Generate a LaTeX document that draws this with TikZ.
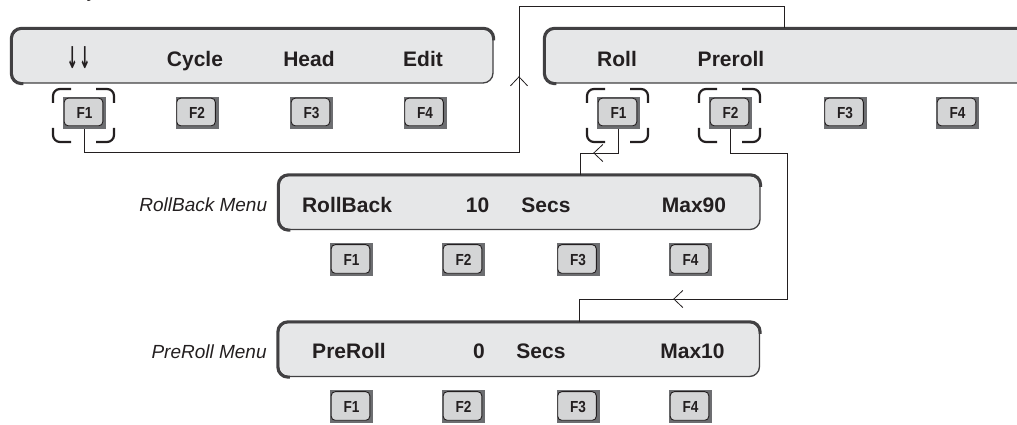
\documentclass[tikz,border=0pt]{standalone}
\usepackage{fontspec}
\setmainfont{Liberation Sans}
\newfontfamily\keyfont[FakeStretch=0.85]{Liberation Sans Bold}
\newfontfamily\arrowfont{DejaVu Sans}
\usetikzlibrary{calc,decorations.markings}
\definecolor{panelfill}{HTML}{E6E7E8}
\definecolor{panelline}{HTML}{414042}
\definecolor{keydark}{HTML}{6D6E71}
\definecolor{keylight}{HTML}{D4D5D6}
\definecolor{ink}{HTML}{231F20}
\newcommand{\bigdown}{\resizebox*{11.5pt}{22pt}{\arrowfont\bfseries ↓}}
\newcommand{\keylabel}[1]{\keyfont\fontsize{16}{18}\selectfont #1}
\tikzset{
 panel/.style={draw=panelline, fill=panelfill, line width=1.3pt, rounded corners=10pt,
   minimum width=481pt, minimum height=54pt, inner sep=0pt},
 bevel/.style={draw=panelline, line width=3pt, rounded corners=10pt},
 fkey/.style={fill=keydark, minimum width=43pt, minimum height=32pt, inner sep=0pt, text=ink,
   path picture={\draw[ink, fill=keylight, line width=0.9pt, rounded corners=4pt]
     ([shift={(1.2,-1.2)}]path picture bounding box.north west) rectangle
     ([shift={(-3.2,3.2)}]path picture bounding box.south east);}},
 ptext/.style={anchor=base, font=\bfseries\fontsize{21}{25}\selectfont, text=ink, inner sep=0pt},
 menulabel/.style={anchor=base east, font=\itshape\fontsize{19}{22}\selectfont, text=ink, inner sep=0pt},
 conn/.style={draw=ink, line width=0.8pt},
 chev/.style={postaction={decorate, decoration={markings,
   mark=at position #1 with {\draw[ink, line width=0.8pt] (-9,-8.5) -- (0,0) -- (-9,8.5);}}}},
 bracketline/.style={draw=ink, line width=2.2pt, rounded corners=7pt},
 fbracket/.pic={
   \draw[bracketline] (-30.5,12.5) -- (-30.5,26.5) -- (-12.5,26.5);
   \draw[bracketline] (12.5,26.5) -- (30.5,26.5) -- (30.5,12.5);
   \draw[bracketline] (30.5,-12.5) -- (30.5,-26.5) -- (12.5,-26.5);
   \draw[bracketline] (-12.5,-26.5) -- (-30.5,-26.5) -- (-30.5,-12.5);
 },
}
\begin{document}
\begin{tikzpicture}[x=1pt,y=1pt]
\useasboundingbox (0,0) rectangle (1017,425);
% cut-off text at the top edge
\node[anchor=base, font=\itshape\fontsize{19}{22}\selectfont, text=ink, inner sep=0pt] (ytop) at (93,427.5) {y};
% panels
\node[panel] (p1) at (252.5,369) {};
\node[panel, minimum width=500pt] (p2) at (795,369) {};
\node[panel] (rb) at (519.5,222.5) {};
\node[panel] (pr) at (519,75.5) {};
\foreach \p in {p1,p2,rb,pr}
  \draw[bevel] ($(\p.south west)+(12,0)$) -- (\p.south west) -- (\p.north west) -- (\p.north east) -- ($(\p.north east)+(0,-12)$);
% panel texts
\node[anchor=south, inner sep=0pt, text=ink] (t11) at (78.5,356) {\bigdown\kern1pt\bigdown};
\node[ptext] (t12) at (195,358.5) {Cycle};
\node[ptext] (t13) at (309,358.5) {Head};
\node[ptext] (t14) at (423,358.5) {Edit};
\node[ptext] (t21) at (617,358.5) {Roll};
\node[ptext] (t22) at (731,358.5) {Preroll};
\node[ptext] (t31) at (347,212.7) {RollBack};
\node[ptext] (t32) at (477.5,212.7) {10};
\node[ptext] (t33) at (546,212.7) {Secs};
\node[ptext] (t34) at (694,212.7) {Max90};
\node[ptext] (t41) at (349,66) {PreRoll};
\node[ptext] (t42) at (479,66) {0};
\node[ptext] (t43) at (541,66) {Secs};
\node[ptext] (t44) at (692.5,66) {Max10};
% menu labels
\node[menulabel] (rbl) at ($(rb.west)+(-11,-9)$) {RollBack Menu};
\node[menulabel] (prl) at ($(pr.west)+(-11,-9)$) {PreRoll Menu};
% keys
\foreach \n/\x in {1/84.5, 2/197, 3/311.5, 4/425} \node[fkey] (a\n) at (\x,312) {\keylabel{F\n}};
\foreach \n/\x in {1/618.5, 2/730.5, 3/845, 4/957.5} \node[fkey] (b\n) at (\x,312) {\keylabel{F\n}};
\foreach \n/\x in {1/351.5, 2/463.5, 3/578, 4/690.5} \node[fkey, minimum height=33pt] (c\n) at (\x,165) {\keylabel{F\n}};
\foreach \n/\x in {1/351.5, 2/463.5, 3/578, 4/690.5} \node[fkey, minimum height=33pt] (d\n) at (\x,18) {\keylabel{F\n}};
% brackets
\pic at ($(a1)+(-1,-2.5)$) {fbracket};
\pic at ($(b1)+(-1,-2.5)$) {fbracket};
\pic at ($(b2)+(-1,-2.5)$) {fbracket};
% connectors
\coordinate (c1a) at (519,273);
\coordinate (c1b) at (519,419);
\coordinate (p2in) at ($(p2.north west)+(240,0)$);
\draw[conn, chev=532.5pt] (a1.south) |- (c1a) -- (c1b) -| (p2in);
\coordinate (c2a) at (580,272);
\draw[conn, chev=48.5pt] (b1.south) |- (c2a) -- (c2a |- rb.north);
\coordinate (c3a) at (787,272);
\coordinate (c3b) at (787,126);
\coordinate (c3c) at (579,126);
\draw[conn, chev=339.5pt] (b2.south) |- (c3a) -- (c3b) -- (c3c) -- (c3c |- pr.north);
\end{tikzpicture}
\end{document}
